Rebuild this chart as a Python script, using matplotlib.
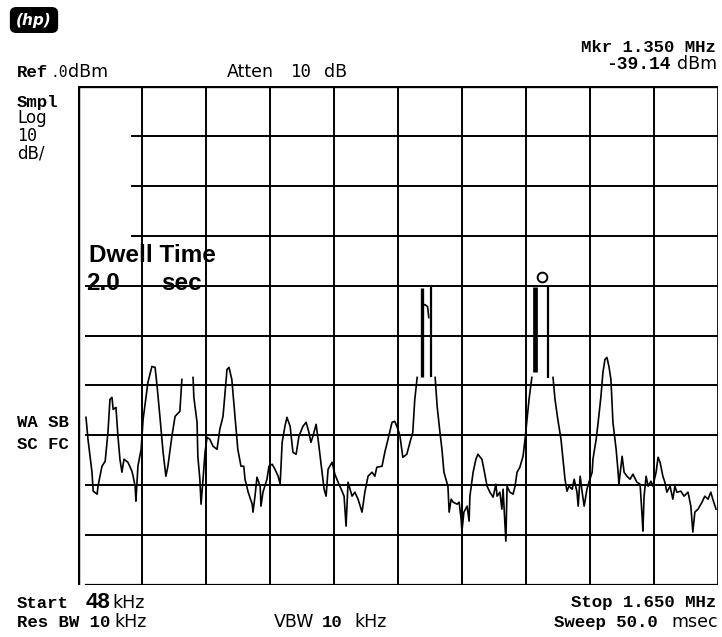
import matplotlib.pyplot as plt
import numpy as np
from matplotlib.patches import FancyBboxPatch

# --- 畫面尺寸 (pixel) ---
W, H = 722, 637

# --- 頻譜儀設定 ---
f_start = 48.0      # kHz
f_stop = 1650.0     # kHz
ref_level = 0.0     # dBm
db_per_div = 10.0
n_div = 10

# --- 掃描軌跡 (kHz, dBm), nan = 被截掉的峰頂 ---
nan = float('nan')
trace_khz = [
    68, 73, 83, 86, 96, 98, 108, 116, 123, 128, 133, 136, 143, 148, 153, 158,
    163, 173, 183, 186, 191, 193, 198, 206, 211, 223, 233, 241, 246, 253, 261,
    268, 273, 283, 291, 303, 308,
    322,
    336, 338, 346, 348, 353, 356, 361, 366, 371, 378, 386, 396, 403, 411, 421,
    426, 433, 441, 448, 456, 463, 466, 474, 484, 486, 491, 496, 504, 506, 511,
    521, 526, 534, 541, 549, 554, 559, 566, 571, 579, 586, 594, 601, 611, 619,
    626, 631, 636, 644, 649, 656, 664, 669, 674, 684, 691, 699, 709, 714, 719,
    724, 734, 741, 749, 759, 766, 774, 784, 791, 796, 809, 816, 824, 834, 841,
    849, 854, 861, 871, 879, 886, 891, 897,
    920,
    942, 947, 954, 959, 964, 969, 974, 977, 982, 987, 997, 1002, 1007, 1009,
    1014, 1022, 1027, 1029, 1037, 1044, 1049, 1059, 1064, 1072, 1079, 1087,
    1094, 1097, 1104, 1109, 1112, 1117, 1119, 1122, 1129, 1137, 1142, 1147,
    1154, 1162, 1167, 1172, 1177, 1184,
    1210,
    1237, 1242, 1249, 1257, 1262, 1267, 1272, 1277, 1285, 1290, 1297, 1300,
    1305, 1310, 1315, 1322, 1327, 1335, 1337, 1345, 1350, 1357, 1362, 1367,
    1372, 1377, 1382, 1387, 1395, 1400, 1402, 1410, 1415, 1422, 1430, 1437,
    1447, 1455, 1460, 1462, 1465, 1470, 1475, 1482, 1487, 1495, 1500, 1505,
    1512, 1517, 1522, 1530, 1537, 1542, 1547, 1557, 1565, 1575, 1582, 1587,
    1592, 1600, 1610, 1617, 1625, 1632, 1637, 1645,
]
trace_dbm = [
    -66.4, -70.8, -77.4, -81.2, -81.8, -80.2, -76.2, -75.2, -69.4, -62.8, -62.4,
    -64.8, -64.4, -70.2, -74.8, -77.4, -74.8, -75.4, -77.2, -78.2, -80.2, -83.2,
    -76.2, -72.8, -66.8, -59.4, -56.2, -56.4, -60.2, -66.2, -73.4, -78.2, -76.2,
    -70.2, -66.2, -65.2, -58.8,
    nan,
    -58.4, -62.4, -67.4, -74.2, -78.8, -83.8, -78.8, -73.4, -70.4, -70.8, -72.2,
    -72.8, -68.8, -66.2, -56.8, -56.4, -58.8, -66.2, -72.8, -76.2, -76.2, -78.8,
    -81.4, -83.8, -85.4, -82.2, -78.4, -80.2, -84.2, -81.4, -78.8, -76.2, -75.8,
    -76.8, -78.2, -79.8, -71.4, -68.2, -66.4, -68.2, -73.4, -73.8, -70.2, -68.2,
    -67.4, -69.4, -71.4, -70.2, -67.8, -70.8, -75.4, -80.8, -82.2, -76.8, -75.4,
    -77.8, -79.4, -81.2, -82.2, -88.2, -79.4, -82.2, -81.4, -82.8, -85.4, -81.4,
    -78.2, -77.4, -78.2, -76.4, -76.2, -73.4, -70.8, -67.4, -67.2, -68.8, -70.2,
    -74.4, -73.8, -71.4, -69.4, -62.8, -58.4,
    nan,
    -58.4, -64.2, -69.4, -72.8, -77.4, -78.8, -80.2, -85.4, -82.8, -83.4, -83.8,
    -83.4, -86.8, -89.2, -85.4, -84.2, -87.2, -82.2, -77.4, -74.8, -73.8, -74.8,
    -76.8, -80.2, -81.4, -82.4, -79.8, -82.2, -81.4, -84.8, -80.8, -88.2, -91.2,
    -80.2, -81.4, -81.8, -80.2, -77.4, -76.4, -74.2, -70.8, -66.8, -62.8, -58.4,
    nan,
    -58.4, -62.8, -66.8, -70.8, -74.8, -78.8, -81.2, -80.2, -80.8, -78.8, -81.4,
    -84.2, -78.2, -81.4, -84.2, -80.8, -79.4, -77.4, -74.8, -70.8, -67.4, -62.2,
    -57.4, -54.8, -54.4, -56.2, -58.8, -67.4, -72.8, -77.4, -79.8, -74.2, -77.4,
    -78.2, -78.8, -77.8, -79.4, -79.8, -86.2, -89.2, -82.2, -78.2, -80.2, -79.2,
    -80.2, -77.4, -74.4, -75.4, -78.2, -79.4, -81.4, -80.2, -82.8, -80.2, -81.4,
    -81.2, -82.2, -81.4, -84.2, -89.4, -85.4, -84.8, -83.4, -82.2, -82.8, -81.4,
    -82.8, -84.8,
]

# 峰頂殘留的垂直線段 (kHz, 上端 dBm, 下端 dBm)
bar_khz = [908, 932, 1192, 1224]
bar_top = [-40.4, -40.0, -40.2, -40.2]
bar_bot = [-58.4, -58.4, -57.4, -58.6]
bar_lw = [2.4, 1.6, 3.4, 1.6]

# 峰頂的小 "n" 形殘影
cap_khz = [909, 911, 916, 923, 926]
cap_dbm = [-46.4, -44.0, -43.8, -44.2, -46.4]

# Marker
mkr_khz = 1209
mkr_dbm = -38.2

# --- 繪圖 ---
fig = plt.figure(figsize=(W / 100, H / 100), dpi=100)
ax = fig.add_axes([78 / W, (H - 585) / H, 640 / W, 499 / H])
ax.set_xlim(f_start, f_stop)
ax.set_ylim(ref_level - n_div * db_per_div, ref_level)
ax.axis('off')

# 格線
span = f_stop - f_start
for k in range(1, n_div):
    ax.axvline(f_start + k * span / n_div, color='k', lw=1.4)
for k in range(1, n_div):
    y = ref_level - k * db_per_div
    x0 = 0.084 if k <= 3 else 0.0125
    ax.axhline(y, xmin=x0, xmax=1, color='k', lw=1.4)

# 外框
ax.axhline(ref_level - n_div * db_per_div, xmin=0.0125, color='k', lw=1.6)
ax.axvline(f_stop, color='k', lw=2.0)
ax.axhline(ref_level, color='k', lw=2.4)
ax.axvline(f_start, color='k', lw=3.2)

ax.plot(trace_khz, trace_dbm, color='k', lw=1.2, clip_on=False)
for f, t, b, w in zip(bar_khz, bar_top, bar_bot, bar_lw):
    ax.plot([f, f], [b, t], color='k', lw=w, solid_capstyle='butt')
ax.plot(cap_khz, cap_dbm, color='k', lw=1.2)
ax.plot(mkr_khz, mkr_dbm, 'o', mfc='white', mec='k', ms=7, mew=1.4)

# --- 文字 ---
def put(x, y, s, ha='left', **kw):
    fig.text(x / W, 1 - y / H, s, ha=ha, va='baseline', **kw)

mono = dict(family='Liberation Mono', weight='bold', size=12.5)
sans = dict(family='DejaVu Sans', size=12.5)
zero = dict(family='DejaVu Sans Mono', size=12.5)
bigs = dict(family='Liberation Sans', weight='bold', size=17.5)

put(716, 52, 'Mkr 1.350 MHz', ha='right', **mono)
put(606, 69, '-39.14', family='Liberation Mono', weight='bold', size=13)
put(677, 69, 'dBm', **sans)

put(17, 77, 'Ref', **mono)
put(50, 77, '.0', family='DejaVu Sans Mono', size=10.5)
put(68, 77, 'dBm', **sans)
put(227, 77, 'Atten', **sans)
put(291, 77, '10', **zero)
put(324, 77, 'dB', **sans)

put(17, 107, 'Smpl', **mono)
put(17, 123, 'Log', family='DejaVu Sans', size=12)
put(17, 141, '10', family='DejaVu Sans Mono', size=12)
put(17, 158, 'dB/', family='DejaVu Sans', size=12)

put(17, 427, 'WA SB', **mono)
put(17, 449, 'SC FC', **mono)

put(89, 262, 'Dwell Time', **bigs)
put(86, 290, '2.0', **bigs)
put(161, 290, 'sec', **bigs)

put(17, 608, 'Start', **mono)
put(86, 608, '48', family='Liberation Sans', weight='bold', size=16)
put(112, 608, 'kHz', **sans)
put(716, 607, 'Stop 1.650 MHz', ha='right', **mono)

put(17, 627, 'Res BW 10', **mono)
put(114, 627, 'kHz', **sans)
put(274, 627, 'VBW', **sans)
put(322, 627, '10', **mono)
put(354, 627, 'kHz', **sans)
put(554, 627, 'Sweep 50.0', **mono)
put(671, 627, 'msec', **sans)

# hp logo
logo = FancyBboxPatch((12 / W, 1 - 31 / H), 44 / W, 22 / H,
                      boxstyle='round,pad=0.002,rounding_size=0.008',
                      transform=fig.transFigure, fc='k', ec='k')
fig.patches.append(logo)
fig.text(34 / W, 1 - 20 / H, '(hp)', ha='center', va='center', color='white',
         family='DejaVu Sans', weight='bold', style='italic', size=11)

fig.savefig('out.png', dpi=100)
